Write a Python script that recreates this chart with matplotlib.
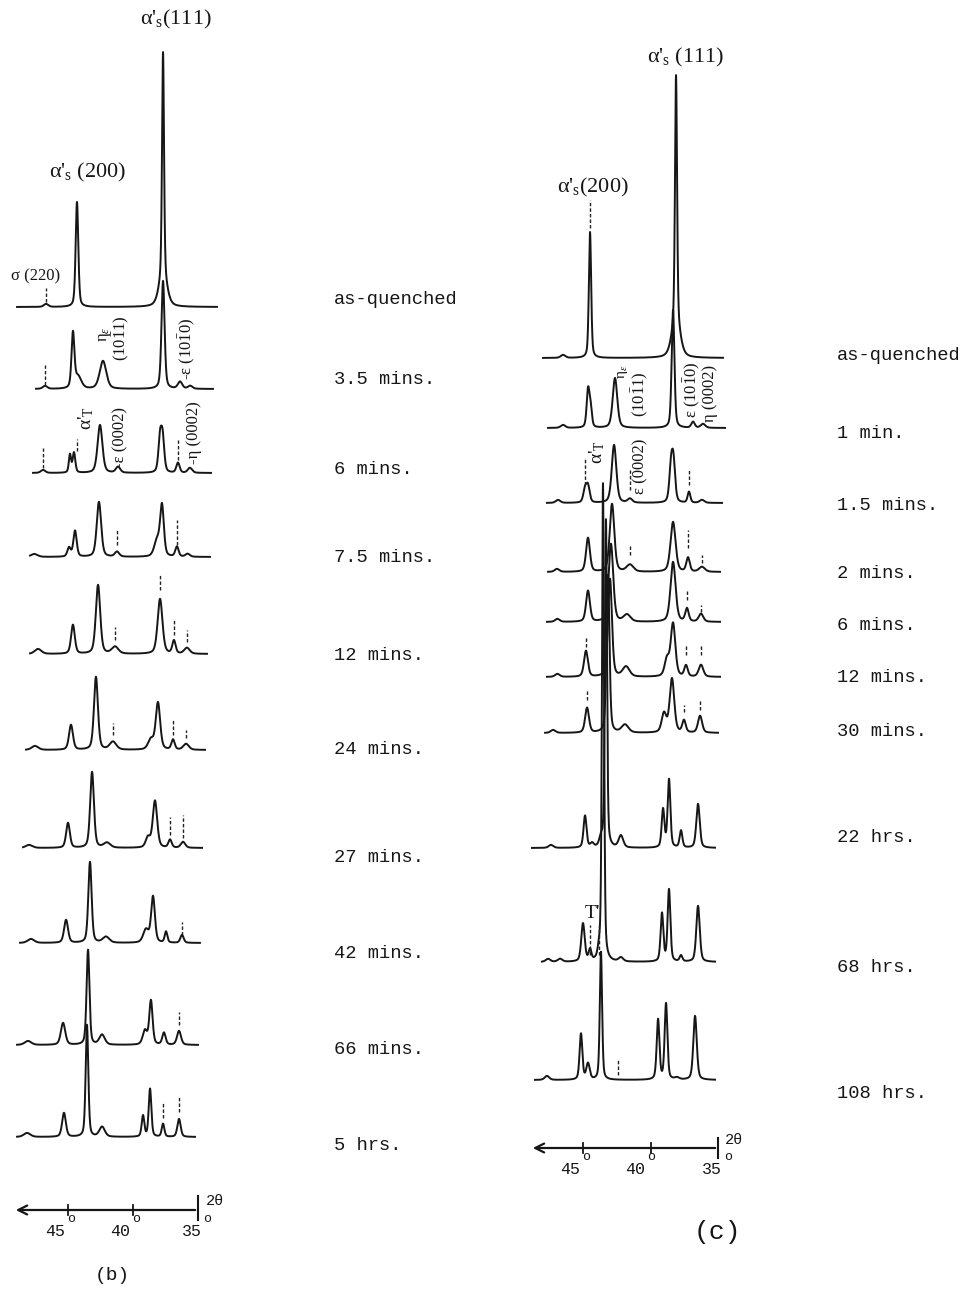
"""
XRD traces after ageing, panels (b) and (c), redrawn from a scanned figure.
Each trace is built from the peaks read off the scan (position in 2-theta,
height in chart units, half width in degrees).
"""

import numpy as np
import matplotlib
matplotlib.use("Agg")
import matplotlib.pyplot as plt

# ============================================================
# FONTS
# ============================================================
plt.rcParams['mathtext.fontset'] = 'custom'
plt.rcParams['mathtext.rm'] = 'Liberation Serif'
plt.rcParams['mathtext.it'] = 'Liberation Serif:italic'
plt.rcParams['mathtext.tt'] = 'Liberation Mono'
SERIF = 'Liberation Serif'
MONO = 'Liberation Mono'

W, H = 972, 1293

# ============================================================
# PANEL (b) DATA
# ============================================================
B_LABELS = ["as-quenched", "3.5 mins.", "6 mins.", "7.5 mins.", "12 mins.",
            "24 mins.", "27 mins.", "42 mins.", "66 mins.", "5 hrs."]
B_BASE  = [307, 389, 473, 557, 654, 750, 848, 943, 1045, 1137]
B_START = [48.92, 47.46, 47.69, 47.92, 47.92, 48.23, 48.46, 48.69, 48.92, 48.92]
B_END   = [33.54, 33.85, 34.00, 34.08, 34.31, 34.46, 34.69, 34.85, 35.00, 35.23]

B_POS = [
    [46.69, 44.31, 37.69, 37.69],
    [46.77, 44.62, 44.23, 42.31, 37.69, 36.38, 35.60],
    [46.92, 44.85, 44.54, 42.54, 41.15, 37.92, 37.72, 36.54, 35.62],
    [47.60, 44.92, 44.46, 42.62, 41.23, 38.15, 37.77, 36.62, 35.80],
    [47.31, 44.62, 42.69, 41.38, 37.92, 36.85, 35.85],
    [47.54, 44.77, 42.85, 41.54, 38.62, 38.08, 36.92, 35.92],
    [48.00, 45.00, 43.15, 42.00, 38.85, 38.31, 37.15, 36.15],
    [47.85, 45.15, 43.31, 42.08, 39.00, 38.46, 37.46, 36.23],
    [48.08, 45.38, 43.46, 42.38, 39.08, 38.62, 37.62, 36.46],
    [48.15, 45.31, 43.54, 42.38, 39.23, 38.69, 37.69, 36.46],
]
B_HT = [
    [3, 105, 225, 30],
    [3, 54, 12, 28, 108, 7, 3],
    [3, 18, 20, 48, 6, 33, 33, 10, 5],
    [3, 9, 26, 55, 5, 16, 50, 10, 3],
    [5, 29, 69, 7, 55, 13, 6],
    [4, 25, 73, 8, 10, 47, 10, 6],
    [3, 25, 76, 5, 10, 47, 8, 6],
    [4, 23, 81, 6, 13, 46, 11, 8],
    [4, 22, 95, 10, 14, 44, 12, 14],
    [4, 24, 112, 10, 21, 48, 13, 18],
]
B_WD = [
    [0.20, 0.12, 0.09, 0.35],
    [0.20, 0.13, 0.30, 0.30, 0.14, 0.20, 0.20],
    [0.20, 0.10, 0.12, 0.22, 0.20, 0.15, 0.15, 0.15, 0.20],
    [0.30, 0.15, 0.15, 0.20, 0.20, 0.25, 0.17, 0.15, 0.20],
    [0.30, 0.17, 0.20, 0.30, 0.22, 0.15, 0.25],
    [0.30, 0.18, 0.18, 0.30, 0.25, 0.20, 0.15, 0.25],
    [0.30, 0.17, 0.17, 0.30, 0.20, 0.20, 0.15, 0.20],
    [0.30, 0.18, 0.15, 0.30, 0.25, 0.17, 0.12, 0.15],
    [0.30, 0.20, 0.13, 0.25, 0.20, 0.15, 0.15, 0.18],
    [0.30, 0.17, 0.12, 0.25, 0.12, 0.12, 0.12, 0.15],
]
# dashed marker bars: (2theta, from, to) above the trace baseline
B_TICKS = [
    [(46.69, 5, 19)],
    [(46.77, 4, 24)],
    [(46.92, 5, 25), (36.54, 13, 33), (44.31, 22, 34)],
    [(41.23, 12, 27), (36.62, 12, 37)],
    [(41.38, 14, 27), (36.85, 19, 34), (35.85, 12, 24), (37.92, 64, 79)],
    [(41.54, 15, 27), (36.92, 15, 30), (35.92, 12, 20)],
    [(37.15, 13, 31), (36.15, 10, 33)],
    [(36.23, 8, 21)],
    [(36.46, 20, 33)],
    [(37.69, 19, 34), (36.46, 25, 40)],
]

# ============================================================
# PANEL (c) DATA
# ============================================================
C_LABELS = ["as-quenched", "1 min.", "1.5 mins.", "2 mins.", "6 mins.",
            "12 mins.", "30 mins.", "22 hrs.", "68 hrs.", "108 hrs."]
C_BASE  = [358, 428, 503, 572, 622, 677, 733, 848, 962, 1080]
C_START = [47.96, 47.59, 47.67, 47.59, 47.67, 47.67, 47.81, 48.78, 48.04, 48.56]
C_END   = [34.63, 34.48, 34.70, 34.85, 34.85, 34.85, 35.00, 35.22, 35.22, 35.22]

C_POS = [
    [46.48, 44.48, 38.11, 38.11],
    [46.48, 44.63, 44.45, 42.63, 38.33, 36.85, 36.11],
    [46.85, 44.85, 44.63, 42.70, 41.52, 38.48, 38.30, 37.15, 36.19],
    [46.93, 44.63, 42.85, 41.52, 38.33, 37.22, 36.19],
    [46.90, 44.63, 42.93, 41.74, 38.33, 37.30, 36.26],
    [46.90, 44.78, 43.00, 41.81, 38.78, 38.33, 37.37, 36.26],
    [47.22, 44.70, 43.15, 41.89, 39.00, 38.41, 37.52, 36.33],
    [47.37, 44.85, 44.33, 43.67, 43.30, 42.19, 39.07, 38.63, 37.74, 36.48],
    [47.59, 46.70, 45.00, 44.48, 43.81, 43.52, 42.19, 39.15, 38.63, 37.74, 36.48],
    [47.67, 45.15, 44.63, 43.67, 39.44, 38.85, 38.04, 36.70],
]
C_HT = [
    [3, 126, 248, 35],
    [3, 36, 20, 50, 118, 6, 4],
    [3, 13, 16, 58, 4, 33, 38, 11, 3],
    [3, 34, 68, 7, 50, 14, 5],
    [3, 31, 78, 7, 60, 13, 8],
    [3, 26, 98, 10, 17, 53, 11, 12],
    [3, 25, 158, 8, 19, 54, 12, 17],
    [3, 32, 4, 8, 328, 12, 38, 68, 17, 44],
    [3, 3, 38, 11, 8, 478, 4, 48, 72, 6, 56],
    [4, 46, 16, 128, 60, 76, 2, 64],
]
C_WD = [
    [0.20, 0.10, 0.09, 0.35],
    [0.20, 0.12, 0.12, 0.20, 0.12, 0.15, 0.20],
    [0.20, 0.15, 0.15, 0.20, 0.20, 0.15, 0.15, 0.12, 0.20],
    [0.20, 0.17, 0.20, 0.30, 0.22, 0.15, 0.25],
    [0.20, 0.17, 0.20, 0.30, 0.22, 0.15, 0.20],
    [0.20, 0.17, 0.17, 0.30, 0.20, 0.20, 0.15, 0.20],
    [0.20, 0.17, 0.13, 0.30, 0.20, 0.20, 0.15, 0.18],
    [0.20, 0.13, 0.15, 0.15, 0.09, 0.20, 0.12, 0.12, 0.12, 0.15],
    [0.20, 0.20, 0.15, 0.12, 0.12, 0.09, 0.20, 0.12, 0.12, 0.12, 0.15],
    [0.20, 0.12, 0.15, 0.10, 0.12, 0.12, 0.20, 0.15],
]
C_TICKS = [
    [(44.48, 130, 158)],
    [],
    [(41.52, 13, 33), (37.15, 18, 33), (44.85, 18, 45)],
    [(41.52, 17, 27), (37.22, 24, 42), (36.19, 9, 17)],
    [(37.30, 22, 32), (36.26, 10, 17)],
    [(37.37, 22, 32), (36.26, 22, 32), (44.78, 30, 40)],
    [(44.70, 33, 43), (37.52, 21, 28), (36.33, 23, 33)],
    [],
    [(44.48, 7, 37), (43.81, 7, 37)],
    [(42.41, 5, 20)],
]

AXIS_TICKS = [45, 40, 35]


# ============================================================
# HELPERS
# ============================================================
def profile(x, pos, ht, wd):
    y = np.zeros_like(x)
    for p, h, w in zip(pos, ht, wd):
        u = (x - p) / w
        y += h * (0.6 * np.exp(-np.log(2) * u ** 2) + 0.4 / (1 + u ** 2))
    return y


def draw_panel(ax, base, start, end, pos, ht, wd, ticks):
    for i in range(len(base)):
        x = np.linspace(start[i], end[i], 2500)
        y = base[i] - profile(x, pos[i], ht[i], wd[i])
        ax.plot(x, y, color='#161616', lw=1.4, solid_joinstyle='round')
        for p, lo, hi in ticks[i]:
            ax.plot([p, p], [base[i] - lo, base[i] - hi], color='#222222',
                    lw=1.0, ls=(0, (2.5, 1.5)))


def draw_axis(ax, y_axis, tip, tick_half, end_tick):
    ax.annotate('', xy=(tip, y_axis), xytext=(35, y_axis),
                arrowprops=dict(arrowstyle='->', lw=1.6, color='#161616',
                                mutation_scale=16))
    for t in AXIS_TICKS[:-1]:
        ax.plot([t, t], [y_axis - tick_half, y_axis + tick_half],
                color='#161616', lw=1.3)
    ax.plot([35, 35], [y_axis - end_tick[0], y_axis + end_tick[1]],
            color='#161616', lw=1.5)


# ============================================================
# FIGURE
# ============================================================
fig = plt.figure(figsize=(W / 100, H / 100), dpi=100)
fig.patch.set_facecolor('white')

# panel (b): 45 deg at x=68 px, 13 px per degree
axb = fig.add_axes([0, 0, 300 / W, 1])
axb.set_xlim(45 + 68 / 13, 45 - 232 / 13)
axb.set_ylim(H, 0)
axb.axis('off')

# panel (c): 45 deg at x=583 px, 13.5 px per degree
axc = fig.add_axes([500 / W, 0, 300 / W, 1])
axc.set_xlim(45 + 83 / 13.5, 45 - 217 / 13.5)
axc.set_ylim(H, 0)
axc.axis('off')

draw_panel(axb, B_BASE, B_START, B_END, B_POS, B_HT, B_WD, B_TICKS)
draw_panel(axc, C_BASE, C_START, C_END, C_POS, C_HT, C_WD, C_TICKS)

draw_axis(axb, 1210, 45 + 55 / 13, 5, (14, 10))
draw_axis(axc, 1148, 45 + 53 / 13.5, 5, (10, 10))

# text overlay in pixel coordinates
ax0 = fig.add_axes([0, 0, 1, 1], facecolor='none')
ax0.set_xlim(0, W)
ax0.set_ylim(H, 0)
ax0.axis('off')

# time labels
B_LABEL_Y = [300, 380, 470, 557, 656, 749, 857, 953, 1050, 1146]
C_LABEL_Y = [356, 433, 506, 573, 625, 678, 731, 838, 968, 1094]
for lab, yy in zip(B_LABELS, B_LABEL_Y):
    ax0.text(334, yy, lab, family=MONO, fontsize=13.5, ha='left', va='center',
             color='#161616')
for lab, yy in zip(C_LABELS, C_LABEL_Y):
    ax0.text(837, yy, lab, family=MONO, fontsize=13.5, ha='left', va='center',
             color='#161616')

# peak labels, panel (b)
kw = dict(family=SERIF, color='#161616', ha='center', va='center')
ax0.text(36, 276, "σ (220)", fontsize=12, **kw)
ax0.text(88, 172, "α'$_{\\rm s}$ (200)", fontsize=16, **kw)
ax0.text(176, 19, "α'$_{\\rm s}$(111)", fontsize=16, **kw)
ax0.text(105, 334, "η$_{ε}$", fontsize=12, rotation=90, **kw)
ax0.text(121, 338, "(10$\\bar{1}$1)", fontsize=12, rotation=90, **kw)
ax0.text(187, 349, "-ε (10$\\bar{1}$0)", fontsize=12, rotation=90, **kw)
ax0.text(86, 418, "α'$_{\\rm T}$", fontsize=14, rotation=90, **kw)
ax0.text(120, 438, "-ε (0002)", fontsize=12, rotation=90, **kw)
ax0.text(194, 433, "-η (0002)", fontsize=12, rotation=90, **kw)

# peak labels, panel (c)
ax0.text(593, 187, "α'$_{\\rm s}$(200)", fontsize=16, **kw)
ax0.text(686, 57, "α'$_{\\rm s}$ (111)", fontsize=16, **kw)
ax0.text(623, 372, "η$_{ε}$", fontsize=11, rotation=90, **kw)
ax0.text(640, 394, "(10$\\bar{1}$1)", fontsize=12, rotation=90, **kw)
ax0.text(692, 390, "ε (10$\\bar{1}$0)", fontsize=12, rotation=90, **kw)
ax0.text(710, 393, "η (0002)", fontsize=12, rotation=90, **kw)
ax0.text(597, 452, "α'$_{\\rm T}$", fontsize=14, rotation=90, **kw)
ax0.text(640, 466, "ε (0002)", fontsize=12, rotation=90, **kw)
ax0.text(592, 914, "T'", fontsize=14, **kw)

# axis annotations
mono = dict(family=MONO, color='#161616', va='center')
for lab, xr, xo in [("45", 65, 67), ("40", 130, 132), ("35", 202, 203)]:
    ax0.text(xr, 1232, lab, fontsize=12, ha='right', **mono)
    ax0.text(xo, 1219, "o", fontsize=9.5, ha='left', **mono)
ax0.text(206, 1201, "2θ", fontsize=11, ha='left', **mono)

for lab, xr, xo in [("45", 580, 582), ("40", 645, 647), ("35", 722, 724)]:
    ax0.text(xr, 1170, lab, fontsize=12, ha='right', **mono)
    ax0.text(xo, 1157, "o", fontsize=9.5, ha='left', **mono)
ax0.text(725, 1140, "2θ", fontsize=11, ha='left', **mono)

ax0.text(112, 1276, "(b)", fontsize=14, ha='center', **mono)
ax0.text(717, 1232, "(c)", fontsize=19, ha='center', **mono)

plt.savefig('out.png', dpi=100, facecolor='white')
plt.close()
